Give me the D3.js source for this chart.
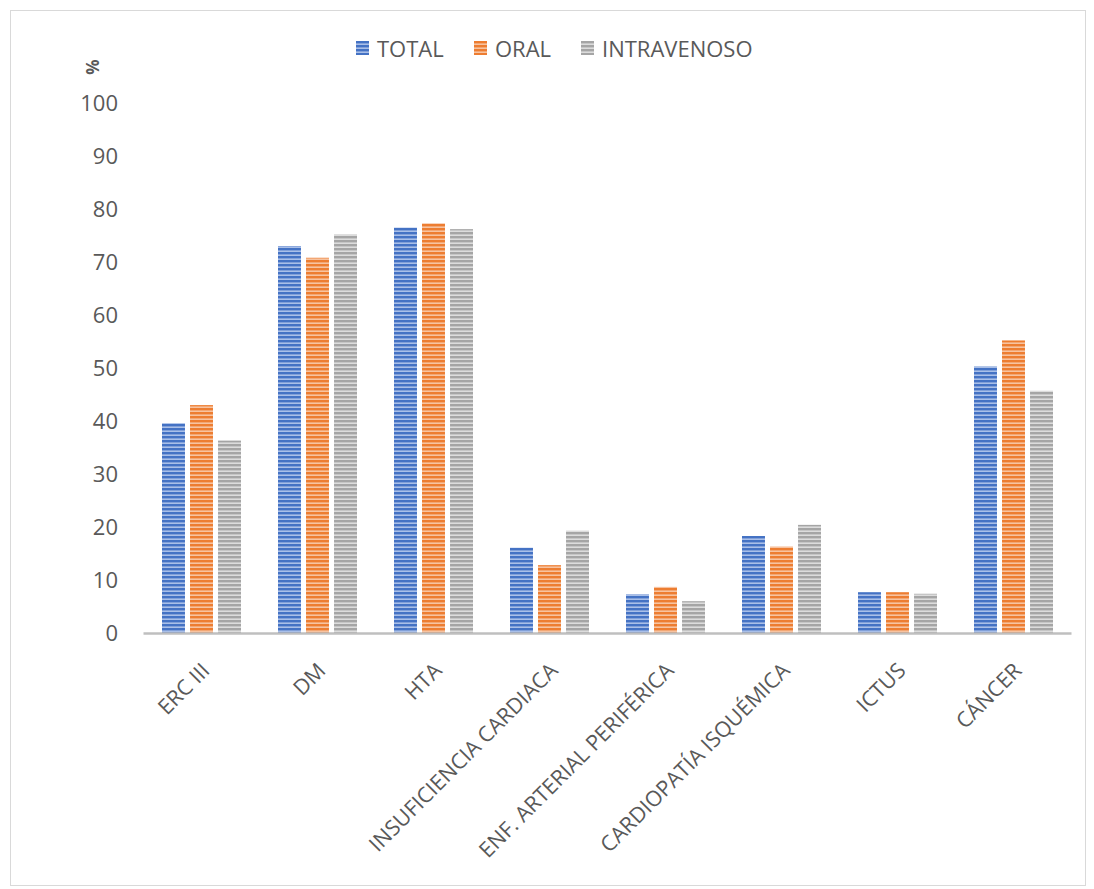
<!DOCTYPE html>
<html>
<head>
<meta charset="utf-8">
<script src="https://cdn.jsdelivr.net/npm/d3@7"></script>
<style>
body { margin: 0; background: #fff; }
text { font-family: "Open Sans", "Liberation Sans", sans-serif; fill: #595959; }
</style>
</head>
<body>
<svg id="chart"></svg>
<script>
const categories = ["ERC III", "DM", "HTA", "INSUFICIENCIA CARDIACA", "ENF. ARTERIAL PERIFÉRICA", "CARDIOPATÍA ISQUÉMICA", "ICTUS", "CÁNCER"];
const seriesNames = ["TOTAL", "ORAL", "INTRAVENOSO"];
const totalValues = [39.6, 73.0, 76.5, 16.1, 7.3, 18.3, 7.7, 50.3];
const oralValues = [43.0, 70.8, 77.3, 12.8, 8.7, 16.3, 7.7, 55.2];
const ivValues = [36.3, 75.2, 76.2, 19.3, 6.0, 20.4, 7.4, 45.7];
const yTicks = [0, 10, 20, 30, 40, 50, 60, 70, 80, 90, 100];

const colors = {"TOTAL": ["#4472c4", "#a9bfe8"], "ORAL": ["#ed7d31", "#f7c3a0"], "INTRAVENOSO": ["#a5a5a5", "#dcdcdc"]};
const fontStack = "'Open Sans', 'Liberation Sans', sans-serif";

const width = 1094, height = 889;
const svg = d3.select("#chart").attr("width", width).attr("height", height);

svg.append("rect")
   .attr("x", 10.5).attr("y", 10.5)
   .attr("width", 1075).attr("height", 875)
   .attr("fill", "#fff").attr("stroke", "#d9d9d9");

// striped fills
const defs = svg.append("defs");
seriesNames.forEach((s, i) => {
	let p = defs.append("pattern")
	            .attr("id", "pat" + i)
	            .attr("patternUnits", "userSpaceOnUse")
	            .attr("width", 8).attr("height", 4);
	p.append("rect").attr("width", 8).attr("height", 4).attr("fill", colors[s][1]);
	p.append("rect").attr("width", 8).attr("height", 2.4).attr("fill", colors[s][0]);
});

const data = categories.map((c, i) => ({cat: c, vals: [totalValues[i], oralValues[i], ivValues[i]]}));

const x = d3.scaleBand().domain(categories).range([143, 1071]);
const xInner = d3.scaleBand().domain(seriesNames).range([19, 98]).paddingInner(0.18);
const y = d3.scaleLinear().domain([0, 100]).range([633, 103]);

const groups = svg.selectAll(".grp")
	.data(data).enter()
	.append("g")
	.attr("class", "grp")
	.attr("transform", (d) => "translate(" + x(d.cat) + ",0)");

groups.selectAll("rect")
	.data((d) => d.vals.map((v, i) => ({s: seriesNames[i], v: v, i: i}))).enter()
	.append("rect")
	.attr("x", (d) => xInner(d.s))
	.attr("width", xInner.bandwidth())
	.attr("y", (d) => y(d.v))
	.attr("height", (d) => y(0) - y(d.v))
	.attr("fill", (d) => "url(#pat" + d.i + ")");

// y axis labels (no line)
const yAxis = d3.axisLeft(y).tickValues(yTicks).tickSize(0).tickPadding(0);
const yg = svg.append("g").attr("transform", "translate(118,0)").call(yAxis);
yg.select(".domain").remove();
yg.selectAll("text").attr("font-size", 22).style("fill", "#595959")
  .style("font-family", fontStack);

// x axis
const xAxis = d3.axisBottom(x).tickSize(0).tickPadding(0);
const xg = svg.append("g").attr("transform", "translate(0," + y(0) + ")").call(xAxis);
xg.select(".domain").attr("stroke", "#bfbfbf").attr("stroke-width", 2.5);
xg.selectAll("text")
  .attr("font-size", 21.5)
  .style("fill", "#595959")
  .style("font-family", fontStack)
  .attr("text-anchor", "end")
  .attr("dy", null).attr("y", 0)
  .attr("transform", "translate(10,39) rotate(-45)");

// % label
svg.append("text")
   .attr("transform", "translate(99,67) rotate(-90)")
   .attr("text-anchor", "middle")
   .attr("font-size", 17)
   .attr("font-weight", "bold")
   .text("%");

// legend
const legendX = [356, 474, 581];
const lg = svg.selectAll(".leg")
	.data(seriesNames).enter()
	.append("g")
	.attr("class", "leg")
	.attr("transform", (d, i) => "translate(" + legendX[i] + ",41)");
lg.append("rect")
  .attr("width", 13).attr("height", 14)
  .attr("fill", (d, i) => "url(#pat" + i + ")");
lg.append("text")
  .attr("x", 21).attr("y", 15.5)
  .attr("font-size", 22)
  .text((d) => d);
</script>
</body>
</html>
